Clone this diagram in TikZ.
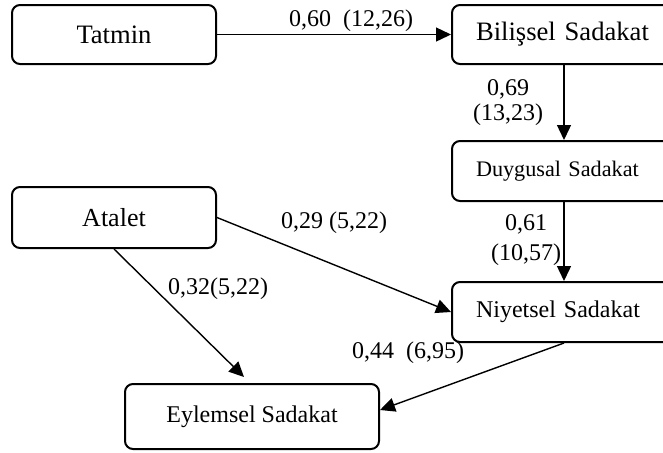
\documentclass[tikz,border=0pt]{standalone}
\usepackage{fontspec}
\setmainfont{Liberation Serif}
\usetikzlibrary{arrows.meta,calc}
\begin{document}
\begin{tikzpicture}[x=0.5pt,y=-0.5pt,
  box/.style={draw, line width=1pt, rounded corners=4pt, inner sep=0pt, align=center},
  rbox/.style={box, minimum width=112pt, text width=88pt, inner xsep=12pt, align=left},
  link/.style={-{Triangle[length=7.5pt,width=7pt]}, line width=0.7pt},
  lab/.style={font=\fontsize{12}{12}\selectfont, inner sep=0pt, align=center}
]
% canvas
\useasboundingbox (0,0) rectangle (663,452);
\clip (0,0) rectangle (663,452);
\fill[white] (0,0) rectangle (663,452);

% constructs
\node[box, minimum width=102pt, minimum height=29.5pt, font=\fontsize{13.3}{14}\selectfont] (tatmin) at (114,34.5) {Tatmin};
\node[rbox, minimum height=29.5pt, font=\fontsize{13.3}{14}\selectfont] (bilissel) at (564,34.5) {Bilişsel Sadakat};
\node[rbox, minimum height=30pt, font=\fontsize{11.1}{12}\selectfont] (duygusal) at (564,171) {Duygusal Sadakat};
\node[box, minimum width=102pt, minimum height=30.5pt, font=\fontsize{13}{14}\selectfont] (atalet) at (114,217.5) {Atalet};
\node[rbox, minimum height=30pt, font=\fontsize{12}{13}\selectfont] (niyetsel) at (564,312) {Niyetsel Sadakat};
\node[box, minimum width=127pt, minimum height=32.5pt, font=\fontsize{12}{13}\selectfont] (eylemsel) at (252,416.5) {Eylemsel Sadakat};

% arrow end points
\coordinate (eyTop) at ($(eylemsel.north)+(-8,-6)$);
\coordinate (eyRight) at ($(eylemsel.east)+(0,-6.5)$);

% paths
\draw[link] (tatmin.east) -- (bilissel.west);
\draw[link] (bilissel.south) -- (duygusal.north);
\draw[link] (duygusal.south) -- (niyetsel.north);
\draw[link] (atalet.east) -- (niyetsel.west);
\draw[link] (atalet.south) -- (eyTop);
\draw[link] (niyetsel.south) -- (eyRight);

% coefficients
\node[lab] (l1) at (351,21) {0,60\ \ (12,26)};
\node[lab, font=\fontsize{12}{12.8}\selectfont] (l2) at (508,102.5) {0,69\\(13,23)};
\node[lab] (l3) at (334,223) {0,29 (5,22)};
\node[lab, font=\fontsize{12}{15.2}\selectfont] (l4) at (526,240) {0,61\\(10,57)};
\node[lab] (l5) at (218,289) {0,32(5,22)};
\node[lab] (l6) at (408,353) {0,44\ \ (6,95)};
\end{tikzpicture}
\end{document}
